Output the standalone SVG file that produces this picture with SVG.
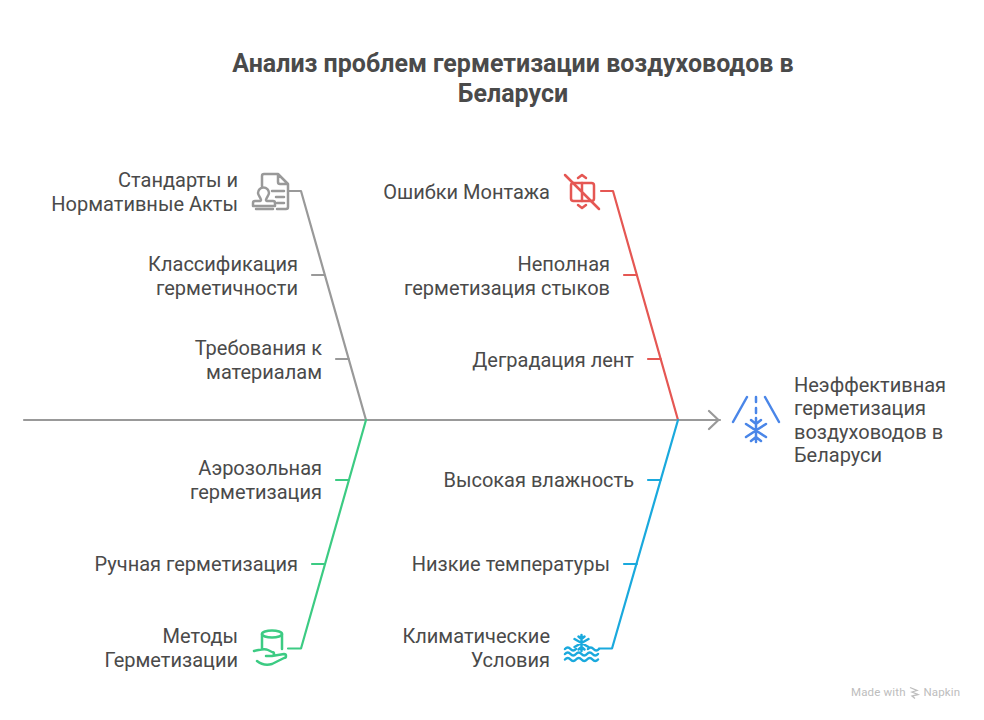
<svg xmlns="http://www.w3.org/2000/svg" width="984" height="720" viewBox="0 0 984 720">
<style>
text{font-family:Roboto,"Liberation Sans",sans-serif;fill:#4a4a4a;font-size:20px}
.t{font-size:25px;font-weight:700;text-anchor:middle}
.e{text-anchor:end}
.w{fill:none;stroke-width:2.200;stroke-linecap:round;stroke-linejoin:round}
.i{stroke-width:2.500}
.gr{stroke:#999}.re{stroke:#e55753}.bl{stroke:#1aa9dd}.gn{stroke:#3ccb83}.sn{stroke:#4a86e8}
.wm{font-size:11.500px;fill:#bdbdbd;letter-spacing:.15px}
</style>
<rect width="984" height="720" fill="#fff"/>
<g id="title"><text class="t" x="513" y="72">Анализ проблем герметизации воздуховодов в</text><text class="t" x="513" y="102">Беларуси</text></g>
<g id="connectors" class="w">
<path class="gr" d="M24 420H720M709 411l9.500 9-9.500 9"/>
<path class="gr" d="M289 191H301L366 420M312 275H325M336 359H349"/>
<path class="re" d="M601 191H613L678 420M624 275H637M648 359H661"/>
<path class="gn" d="M288 648.500H301L366 420M312 564H325M336 480H349"/>
<path class="bl" d="M599 648.500H612L678 420M624 564H637M648 480H661"/>
</g>
<g id="n1"><text class="e" x="238" y="186.500">Стандарты и</text><text class="e" x="238" y="210.500">Нормативные Акты</text>
<g class="w i gr"><path d="M262 186V176a2 2 0 0 1 2-2H278L288 184V207a2 2 0 0 1-2 2H277M278 174V182a2 2 0 0 0 2 2H288M272 191H284M276 197H284M277 203H284"/><path d="M253 206V203a2 2 0 0 1 2-2H259C264 201 258 196 258 193a5.500 5.500 0 0 1 11 0C269 196 263 201 268 201H273a2 2 0 0 1 2 2V206ZM256 209H273"/></g></g>
<g id="n2"><text class="e" x="298" y="270.500">Классификация</text><text class="e" x="298" y="294.500">герметичности</text></g>
<g id="n3"><text class="e" x="322" y="354.500">Требования к</text><text class="e" x="322" y="378.500">материалам</text></g>
<g id="n4"><text class="e" x="550" y="198.500">Ошибки Монтажа</text>
<g class="w i re"><rect x="571" y="183" width="23" height="18" rx="2.500"/><path d="M582 183V201M578 178l4-3 4 3M578 205l4 3 4-3M565 175L599 209"/></g></g>
<g id="n5"><text class="e" x="610" y="270.500">Неполная</text><text class="e" x="610" y="294.500">герметизация стыков</text></g>
<g id="n6"><text class="e" x="634" y="366.500">Деградация лент</text></g>
<g id="n7"><text class="e" x="322" y="475">Аэрозольная</text><text class="e" x="322" y="498.500">герметизация</text></g>
<g id="n8"><text class="e" x="298" y="570.500">Ручная герметизация</text></g>
<g id="n9"><text class="e" x="238" y="643">Методы</text><text class="e" x="238" y="667">Герметизации</text>
<g class="w i gn"><ellipse cx="272" cy="634" rx="10" ry="3.500"/><path d="M262 634V649M282 634V649M254 651C260 650 264 648 268 650L272 652a2 2 0 0 1 0 4H266M257 661C262 665 268 665 272 664L284 658a2 2 0 0 0 0-4L272 656"/></g></g>
<g id="n10"><text class="e" x="634" y="486.500">Высокая влажность</text></g>
<g id="n11"><text class="e" x="610" y="570.500">Низкие температуры</text></g>
<g id="n12"><text class="e" x="550" y="643">Климатические</text><text class="e" x="550" y="667">Условия</text>
<g class="w i bl"><path d="M581.500 635V651M574.500 639L588.500 647M588.500 639L574.500 647M578.500 636.500l3 2.500 3-2.500M578.500 649.500l3-2.500 3 2.500"/><path d="M565 649q2.800-3 5.500 0t5.500 0M565 654q2.800-3 5.500 0t5.500 0 5.500 0 5.500 0 5.500 0 5.500 0M565 659.500q2.800-3 5.500 0t5.500 0 5.500 0 5.500 0 5.500 0 5.500 0M588 649q2.800-3 5.500 0t5.500 0"/></g></g>
<g id="n13"><text x="794" y="391.500">Неэффективная</text><text x="794" y="415">герметизация</text><text x="794" y="438.500">воздуховодов в</text><text x="794" y="462">Беларуси</text>
<g class="w i sn"><path d="M747 397L733 422M765 397L779 422M756 397V402M756 408V413M756 418V442M746 424L766 437M766 424L746 437M751 420l5 4 5-4M751 441l5-4 5 4"/></g></g>
<g id="watermark"><text class="wm" x="851" y="696">Made with</text><path d="M910 687.500l7 3-5 1.500 6 2.500-6 1.500 3 2.500" fill="none" stroke="#bdbdbd" stroke-width="1.300"/><text class="wm" x="923.500" y="696">Napkin</text></g>
</svg>
